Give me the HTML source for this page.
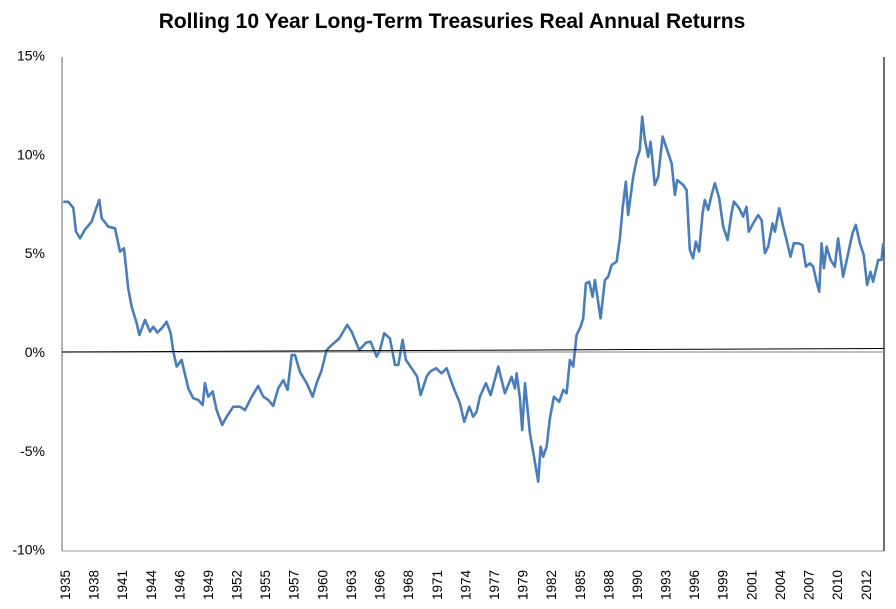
<!DOCTYPE html>
<html><head><meta charset="utf-8"><style>
body{margin:0;background:#fff;}
svg{display:block;font-family:"Liberation Sans",sans-serif;}
</style></head><body>
<svg id="chart" width="896" height="609" viewBox="0 0 896 609" xmlns="http://www.w3.org/2000/svg">
<text x="452" y="28" text-anchor="middle" font-size="21" font-weight="bold" fill="#000">Rolling 10 Year Long-Term Treasuries Real Annual Returns</text>
<g id="axes"></g>
<g id="series"></g>
</svg>
<script>
const years=[1935.13,1935.61,1936.09,1936.35,1936.74,1937.22,1937.87,1938.19,1938.6,1938.84,1939.47,1940.12,1940.6,1940.99,1941.4,1941.73,1942.22,1942.47,1943.02,1943.5,1943.82,1944.21,1944.63,1945.11,1945.5,1945.75,1946.08,1946.56,1947.2,1947.68,1948.17,1948.59,1948.81,1949.13,1949.56,1949.94,1950.48,1950.91,1951.55,1952.19,1952.68,1953.33,1953.96,1954.45,1954.93,1955.41,1955.89,1956.38,1956.8,1957.19,1957.51,1957.99,1958.64,1959.22,1959.6,1960.09,1960.57,1961.05,1961.79,1962.56,1962.98,1963.72,1964.37,1964.82,1965.4,1965.72,1966.13,1966.68,1967.17,1967.49,1967.91,1968.23,1968.78,1969.32,1969.65,1970.23,1970.55,1971.13,1971.68,1972.16,1972.8,1973.45,1973.86,1974.35,1974.73,1975.06,1975.38,1975.96,1976.41,1977.15,1977.79,1978.44,1978.76,1978.92,1979.24,1979.46,1979.73,1980.21,1980.6,1981.01,1981.24,1981.49,1981.82,1982.14,1982.53,1983.04,1983.43,1983.75,1984.07,1984.39,1984.72,1985.11,1985.36,1985.62,1985.94,1986.27,1986.49,1987.04,1987.45,1987.77,1988.1,1988.58,1988.9,1989.16,1989.48,1989.7,1990.19,1990.52,1990.83,1991.06,1991.32,1991.64,1991.87,1992.28,1992.6,1993.03,1993.47,1993.9,1994.22,1994.44,1995.02,1995.35,1995.66,1995.98,1996.24,1996.56,1996.89,1997.11,1997.43,1997.76,1998.08,1998.5,1998.88,1999.31,1999.69,1999.92,2000.43,2000.81,2001.14,2001.36,2001.78,2002.26,2002.59,2002.91,2003.23,2003.65,2003.88,2004.29,2004.68,2005.01,2005.39,2005.71,2006.13,2006.55,2006.87,2007.26,2007.58,2007.9,2008.16,2008.39,2008.61,2008.87,2009.26,2009.67,2009.99,2010.47,2010.96,2011.38,2011.7,2012.09,2012.47,2012.79,2013.12,2013.37,2013.86,2014.18,2014.34];
const returns=[7.6,7.6,7.3,6.1,5.75,6.2,6.6,7.1,7.7,6.77,6.34,6.26,5.08,5.25,3.22,2.29,1.45,0.86,1.62,1.03,1.28,0.98,1.2,1.53,0.95,0.02,-0.74,-0.4,-1.84,-2.34,-2.43,-2.68,-1.58,-2.26,-2.0,-2.94,-3.69,-3.27,-2.77,-2.77,-2.94,-2.26,-1.72,-2.26,-2.43,-2.73,-1.84,-1.42,-1.92,-0.15,-0.15,-1.0,-1.58,-2.26,-1.58,-0.91,0.1,0.35,0.69,1.37,1.03,0.1,0.47,0.52,-0.24,0.1,0.95,0.69,-0.66,-0.66,0.61,-0.4,-0.82,-1.25,-2.18,-1.25,-1.0,-0.82,-1.08,-0.82,-1.76,-2.6,-3.53,-2.77,-3.27,-3.02,-2.26,-1.58,-2.18,-0.74,-2.09,-1.25,-1.84,-1.08,-2.34,-3.95,-1.58,-4.11,-5.3,-6.56,-4.79,-5.3,-4.79,-3.36,-2.26,-2.52,-1.92,-2.09,-0.4,-0.74,0.86,1.28,1.7,3.47,3.56,2.8,3.64,1.7,3.64,3.81,4.4,4.57,5.75,7.27,8.62,6.93,8.87,9.72,10.22,11.91,10.73,9.88,10.64,8.45,8.87,10.9,10.22,9.55,7.95,8.7,8.45,8.2,5.16,4.74,5.58,5.08,7.02,7.69,7.19,7.95,8.54,7.78,6.34,5.67,7.02,7.61,7.27,6.85,7.35,6.09,6.51,6.93,6.68,5.0,5.33,6.51,6.09,7.27,6.34,5.67,4.82,5.5,5.5,5.41,4.32,4.49,4.32,3.56,3.05,5.5,4.24,5.33,4.66,4.32,5.75,3.81,5.0,6.01,6.43,5.5,4.91,3.39,4.06,3.56,4.66,4.66,5.5];
const yTicks=[15,10,5,0,-5,-10];
const yTickLabels=["15%","10%","5%","0%","-5%","-10%"];
const xTickLabels=["1935","1938","1941","1944","1946","1949","1952","1955","1957","1960","1963","1966","1968","1971","1974","1977","1979","1982","1985","1988","1990","1993","1996","1999","2001","2004","2007","2010","2012"];
const xTickYears=[1935.29,1938.05,1940.82,1943.58,1946.34,1949.11,1951.87,1954.63,1957.39,1960.16,1962.92,1965.68,1968.45,1971.21,1973.97,1976.74,1979.5,1982.26,1985.03,1987.79,1990.55,1993.32,1996.08,1998.84,2001.61,2004.37,2007.13,2009.9,2012.66];
const trendStart=0.0, trendEnd=0.18;

const L=62,R=884,T=57,B=551;
const x=t=>L+(t-1935.0)*10.35;
const y=v=>352-v*19.76;
const NS="http://www.w3.org/2000/svg";
const axes=document.getElementById('axes'), ser=document.getElementById('series');
function mk(tag,attrs,parent){const e=document.createElementNS(NS,tag);for(const k in attrs)e.setAttribute(k,attrs[k]);parent.appendChild(e);return e;}

const la=mk('line',{x1:L,y1:T,x2:L,y2:B,stroke:'#888','stroke-width':1.3},axes);


const lb=mk('line',{x1:L,y1:B,x2:R,y2:B,stroke:'#999','stroke-width':1},axes);


const lr=mk('line',{x1:R,y1:T,x2:R,y2:B,stroke:'#222','stroke-width':1.3},axes);


const z=mk('line',{x1:L,y1:y(0),x2:R,y2:y(0),stroke:'#999','stroke-width':1.3},axes);



yTicks.forEach((v,i)=>{
  const t=mk('text',{x:45,y:y(v)+5,'text-anchor':'end','font-size':14,fill:'#000'},axes);
  t.textContent=yTickLabels[i];
  
  
});
xTickLabels.forEach((s,i)=>{
  const px=x(xTickYears[i])+5, py=600;
  const t=mk('text',{x:px,y:py,'font-size':13.5,fill:'#000',transform:`rotate(-90 ${px} ${py})`},axes);
  t.textContent=s;
  
  
});

const d=years.map((t,i)=>(i?'L':'M')+x(t).toFixed(1)+' '+y(returns[i]).toFixed(1)).join(' ');
const p=mk('path',{d:d,fill:'none',stroke:'#4a7ebb','stroke-width':2.6,'stroke-linejoin':'round'},ser);



const tr=mk('line',{x1:L,y1:y(trendStart),x2:R,y2:y(trendEnd),stroke:'#000','stroke-width':1},ser);


</script>
</body></html>
